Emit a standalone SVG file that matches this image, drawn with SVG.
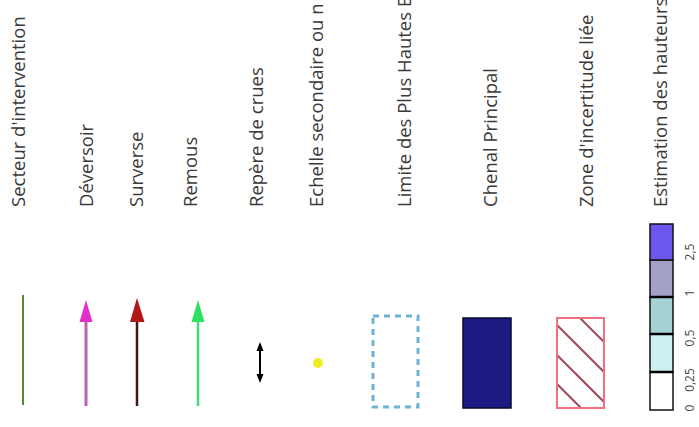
<svg xmlns="http://www.w3.org/2000/svg" width="699" height="427" viewBox="0 0 699 427">
<style>
.lbl{font-family:"Open Sans","Liberation Sans",sans-serif;font-size:18.5px;fill:#3a3a3a}
.tick{font-family:"Open Sans","Liberation Sans",sans-serif;font-size:12px;fill:#444;text-anchor:middle}
.bar{stroke:#111;stroke-width:1.5}
</style>
<defs>
<clipPath id="hclip"><rect x="557" y="318" width="47" height="90"/></clipPath>
</defs>
<rect width="699" height="427" fill="#fff"/>
<g id="secteur">
<text class="lbl" transform="translate(25,207) rotate(-90)">Secteur d'intervention</text>
<line x1="23" y1="295" x2="23" y2="405" stroke="#4f8f2f" stroke-width="2"/>
</g>
<g id="deversoir">
<text class="lbl" transform="translate(93,207) rotate(-90)">Déversoir</text>
<line x1="86" y1="318" x2="86" y2="406" stroke="#c060b0" stroke-width="3"/>
<polygon points="86,300 79.5,322 92.5,322" fill="#e030c8"/>
</g>
<g id="surverse">
<text class="lbl" transform="translate(143,207) rotate(-90)">Surverse</text>
<line x1="137" y1="318" x2="137" y2="406" stroke="#4a1414" stroke-width="2.5"/>
<polygon points="137,298 130,322 144.5,322" fill="#b01818"/>
</g>
<g id="remous">
<text class="lbl" transform="translate(197,207) rotate(-90)">Remous</text>
<line x1="198" y1="318" x2="198" y2="406" stroke="#40d880" stroke-width="2.5"/>
<polygon points="198,300 191.5,322 204.5,322" fill="#30e060"/>
</g>
<g id="repere">
<text class="lbl" transform="translate(263,207) rotate(-90)">Repère de crues</text>
<line x1="260" y1="344" x2="260" y2="381" stroke="#000" stroke-width="2"/>
<polygon points="260,342 256.5,351 263.5,351" fill="#000"/>
<polygon points="260,383 256.5,374 263.5,374" fill="#000"/>
</g>
<g id="echelle">
<text class="lbl" transform="translate(323,207) rotate(-90)">Echelle secondaire ou n</text>
<circle cx="318" cy="363" r="5" fill="#eeee22"/>
</g>
<g id="limite">
<text class="lbl" transform="translate(411,207) rotate(-90)">Limite des Plus Hautes E</text>
<rect x="373" y="316" width="45" height="91" fill="none" stroke="#6cb4d4" stroke-width="3" stroke-dasharray="6 5"/>
</g>
<g id="chenal">
<text class="lbl" transform="translate(497,207) rotate(-90)">Chenal Principal</text>
<rect x="463" y="318" width="48" height="90" fill="#1e1a84" stroke="#0a0a30" stroke-width="1.5"/>
</g>
<g id="zone">
<text class="lbl" transform="translate(593,207) rotate(-90)">Zone d'incertitude liée</text>
<g clip-path="url(#hclip)" stroke="#a04858" stroke-width="2">
<line x1="557" y1="267" x2="604" y2="314"/>
<line x1="557" y1="295" x2="604" y2="342"/>
<line x1="557" y1="325" x2="604" y2="372"/>
<line x1="557" y1="355" x2="604" y2="402"/>
<line x1="557" y1="384" x2="604" y2="431"/>
</g>
<rect x="557" y="318" width="47" height="90" fill="none" stroke="#f07080" stroke-width="2"/>
</g>
<g id="estimation">
<text class="lbl" transform="translate(667,207) rotate(-90)">Estimation des hauteurs</text>
<rect x="650" y="372" width="23" height="38" fill="#ffffff" class="bar"/>
<rect x="650" y="334" width="23" height="38" fill="#cdeff0" class="bar"/>
<rect x="650" y="297" width="23" height="37" fill="#a6d2d6" class="bar"/>
<rect x="650" y="260" width="23" height="37" fill="#a2a2c6" class="bar"/>
<rect x="650" y="224" width="23" height="36" fill="#6a58ee" class="bar"/>
<line x1="650" y1="372" x2="673" y2="372" stroke="#000" stroke-width="2.5"/>
<line x1="650" y1="334" x2="673" y2="334" stroke="#000" stroke-width="2.5"/>
<line x1="650" y1="297" x2="673" y2="297" stroke="#000" stroke-width="2.5"/>
<text class="tick" transform="translate(694,408) rotate(-90)">0</text>
<text class="tick" transform="translate(694,380) rotate(-90)">0,25</text>
<text class="tick" transform="translate(694,338) rotate(-90)">0,5</text>
<text class="tick" transform="translate(694,293) rotate(-90)">1</text>
<text class="tick" transform="translate(694,252) rotate(-90)">2,5</text>
</g>
</svg>
